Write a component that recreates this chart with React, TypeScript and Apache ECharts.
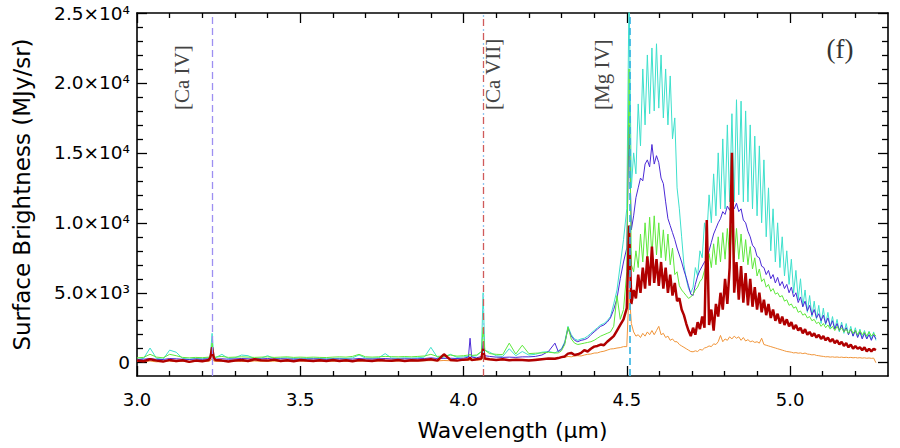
import React, { useEffect, useRef } from "react";
import * as echarts from "echarts";

// Wavelength grid (μm)
const wavelengthsA = [
  3.0, 3.02, 3.04, 3.06, 3.08, 3.1, 3.12, 3.14, 3.16, 3.18,
  3.2, 3.22, 3.225, 3.23, 3.235, 3.24, 3.26, 3.28, 3.3, 3.32,
  3.34, 3.36, 3.38, 3.4, 3.42, 3.44, 3.46, 3.48, 3.5, 3.52,
  3.54, 3.56, 3.58, 3.6, 3.62, 3.64, 3.66, 3.68, 3.7, 3.72,
  3.74, 3.76, 3.78, 3.8, 3.82, 3.84, 3.86, 3.88, 3.9, 3.92,
  3.94, 3.96, 3.98, 4.0, 4.015, 4.02, 4.025, 4.04, 4.055, 4.06,
  4.065, 4.08, 4.1, 4.12, 4.14, 4.16, 4.18, 4.2, 4.22, 4.24,
  4.26, 4.28,
];
const wavelengthsB = [
  4.29, 4.3, 4.31, 4.32, 4.33, 4.34, 4.35, 4.36, 4.37, 4.38,
  4.39, 4.4, 4.41, 4.42, 4.43, 4.44, 4.45, 4.46, 4.47, 4.48, 4.49,
  4.5, 4.507, 4.514, 4.521, 4.528, 4.535, 4.542, 4.549, 4.556, 4.563,
  4.57, 4.577, 4.584, 4.591, 4.598, 4.605, 4.612, 4.619, 4.626, 4.633,
  4.64, 4.647, 4.654, 4.661, 4.668, 4.675, 4.682, 4.689, 4.696, 4.703,
  4.71, 4.717, 4.724, 4.731, 4.738, 4.745, 4.752, 4.759, 4.766, 4.773,
  4.78, 4.787, 4.794, 4.801, 4.808, 4.815, 4.822, 4.829, 4.836, 4.843,
  4.85, 4.857, 4.864, 4.871, 4.878, 4.885, 4.892, 4.899, 4.906, 4.913,
  4.92, 4.927, 4.934, 4.941, 4.948, 4.955, 4.962, 4.969, 4.976, 4.983,
  4.99, 4.997, 5.004, 5.011, 5.018, 5.025, 5.032, 5.039, 5.046, 5.053,
  5.06, 5.067, 5.074, 5.081, 5.088, 5.095, 5.102, 5.109, 5.116, 5.123,
  5.13, 5.137, 5.144, 5.151, 5.158, 5.165, 5.172, 5.179, 5.186, 5.193,
  5.2, 5.207, 5.214, 5.221, 5.228, 5.235, 5.242, 5.249, 5.256, 5.263,
];

// Surface brightness (MJy/sr)
const cyanA = [
  250, 300, 1050, 300, 250, 900, 750, 300, 250, 300,
  280, 350, 600, 2100, 500, 350, 600, 300, 350, 550,
  500, 300, 320, 500, 300, 320, 350, 300, 330, 300,
  320, 300, 280, 300, 320, 300, 350, 550, 330, 320,
  350, 650, 330, 320, 350, 330, 350, 400, 1100, 380,
  400, 600, 380, 420, 450, 500, 450, 500, 800, 5000,
  900, 750, 500, 450, 1000, 500, 800, 550, 600, 750,
  800, 700,
];
const cyanB = [
  850, 1000, 1500, 2600, 2000, 1700, 1600, 1700, 1750, 1900,
  2100, 2300, 2500, 2700, 2800, 3000, 3300, 4200, 5200, 7000, 8800,
  11000, 27000, 12500, 15000, 13500, 18500, 15500, 21000, 17000, 22000,
  17800, 22500, 18000, 22800, 18200, 22000, 17500, 21000, 17000, 20500,
  16000, 17500, 12500, 11000, 9000, 7000, 6000, 5300, 5000, 5400,
  6800, 6200, 8000, 7500, 10000, 9000, 12000, 10000, 13500, 10500,
  15000, 11000, 16000, 11000, 17000, 11500, 17800, 11500, 18800, 12000,
  18700, 11500, 18000, 11500, 17000, 11000, 16200, 10500, 15500, 10000,
  14500, 9000, 12500, 8000, 11000, 7200, 10000, 6800, 9000, 6200,
  8000, 5600, 7400, 5000, 6600, 4500, 6000, 4000, 5200, 3600,
  4800, 3300, 4400, 3100, 4100, 2800, 3900, 2700, 3600, 2500,
  3300, 2400, 3100, 2200, 2900, 2100, 2800, 2000, 2600, 1900,
  2500, 1850, 2400, 1800, 2300, 1700, 2250, 1650, 2200, 1600,
];

const violetA = [
  220, 250, 300, 240, 230, 300, 280, 250, 230, 260,
  240, 280, 350, 900, 300, 260, 280, 250, 270, 300,
  280, 260, 270, 300, 260, 280, 270, 250, 260, 250,
  270, 260, 240, 260, 270, 250, 260, 300, 270, 260,
  280, 300, 270, 260, 280, 270, 280, 300, 350, 300,
  310, 320, 300, 320, 400, 1750, 400, 350, 450, 1500,
  500, 450, 400, 380, 400, 380, 420, 420, 450, 550,
  800, 1400,
];
const violetB = [
  800, 950, 1400, 2450, 1900, 1600, 1500, 1600, 1650, 1750,
  2000, 2200, 2400, 2600, 2700, 2900, 3200, 3800, 4600, 6000, 7200,
  8200, 17000, 9500, 10500, 11800, 12500, 13200, 13000, 14200, 14500,
  14000, 15600, 14200, 14800, 14300, 13200, 12800, 11500, 10300, 9800,
  9300, 8800, 8200, 7700, 7200, 6600, 6100, 5500, 4900, 4800,
  5600, 6200, 6600, 6900, 7200, 7400, 8000, 8600, 9200, 9600,
  10000, 10300, 10800, 10600, 11200, 10900, 11500, 11000, 11400, 10800,
  11000, 10200, 10000, 9400, 9000, 8400, 8200, 7600, 7500, 6900,
  6800, 6300, 6600, 6000, 6300, 5700, 6100, 5500, 5800, 5300,
  5600, 5000, 5400, 4700, 5000, 4300, 4700, 4000, 4400, 3700,
  4100, 3400, 3800, 3200, 3500, 3000, 3400, 2800, 3200, 2600,
  3000, 2400, 2800, 2300, 2700, 2200, 2500, 2000, 2400, 1900,
  2300, 1800, 2200, 1700, 2100, 1700, 2000, 1600, 2000, 1700,
];

const greenA = [
  350, 380, 600, 400, 350, 600, 500, 380, 350, 380,
  360, 400, 500, 1400, 450, 400, 450, 380, 400, 420,
  400, 380, 400, 420, 380, 400, 420, 380, 400, 380,
  400, 380, 370, 400, 420, 400, 450, 600, 420, 400,
  420, 450, 430, 420, 440, 420, 450, 480, 600, 450,
  480, 550, 470, 500, 550, 600, 520, 550, 800, 2500,
  900, 650, 600, 580, 1400, 620, 1250, 650, 680, 700,
  750, 700,
];
const greenB = [
  700, 850, 1300, 2550, 1700, 1400, 1300, 1350, 1400, 1450,
  1500, 1600, 1750, 1900, 2000, 2100, 2200, 2600, 4800, 3100, 3800,
  6500, 21000, 7000, 6500, 8000, 6800, 9200, 7200, 10000, 7500,
  10400, 7600, 10500, 7700, 10000, 7500, 9500, 7300, 9200, 7000,
  8200, 6300, 6500, 5500, 5200, 5000, 4800, 4600, 4700, 4900,
  5200, 5400, 5800, 6000, 6600, 7000, 7800, 6800, 8500, 7000,
  9000, 7200, 9300, 7400, 9600, 7500, 9800, 7500, 9600, 7400,
  9200, 7200, 8800, 7000, 8300, 6700, 7500, 6200, 6700, 5800,
  6000, 5400, 5600, 5100, 5300, 4900, 5000, 4700, 4800, 4400,
  4500, 4100, 4200, 3900, 4000, 3600, 3700, 3400, 3500, 3200,
  3300, 3000, 3100, 2800, 2900, 2600, 2800, 2500, 2700, 2400,
  2600, 2300, 2600, 2300, 2500, 2200, 2400, 2100, 2400, 2100,
  2300, 2000, 2300, 2000, 2200, 1900, 2200, 1900, 2100, 1900,
];

const redA = [
  150, 100, 250, 150, 80, 200, 120, 180, 60, 150,
  100, 200, 400, 1100, 350, 200, 150, 80, 160, 200,
  120, 250, 180, 150, 220, 120, 180, 100, 200, 150,
  120, 180, 130, 200, 120, 170, 100, 200, 150, 120,
  200, 160, 140, 200, 120, 180, 150, 200, 250, 150,
  600, 200, 150, 220, 250, 350, 200, 250, 300, 1000,
  300, 250, 200, 250, 180, 220, 200, 150, 200, 250,
  300, 280,
];
const redB = [
  330, 400, 450, 650, 700, 550, 600, 700, 900, 800,
  1000, 1150, 1200, 1300, 1250, 1500, 1700, 1900, 2300, 2700, 3100,
  3900, 9800, 4200, 5200, 4600, 6300, 5000, 6800, 5300, 7600,
  5500, 8300, 5700, 7400, 5500, 7200, 5300, 6800, 5000, 6300,
  4800, 5700, 4400, 4600, 3800, 3400, 2800, 2300, 1900, 2500,
  2000, 2900, 2400, 3300, 2500, 10200, 2700, 3800, 2300, 4200,
  3300, 5000, 3800, 6000, 4200, 6800, 15000, 5000, 7200, 4500,
  6900, 4300, 6400, 4100, 6000, 4000, 5400, 3800, 5000, 3600,
  4500, 3400, 4200, 3200, 3800, 3000, 3500, 2800, 3300, 2700,
  3100, 2600, 2900, 2400, 2700, 2300, 2500, 2100, 2400, 2000,
  2200, 1900, 2100, 1800, 2000, 1700, 1900, 1600, 1800, 1500,
  1700, 1400, 1600, 1300, 1500, 1200, 1400, 1100, 1300, 1000,
  1200, 1000, 1100, 900, 1100, 800, 1000, 800, 1000, 900,
];

const orangeA = [
  100, 80, 120, 60, 90, 110, 70, 100, 50, 90,
  80, 100, 150, 300, 120, 90, 100, 70, 110, 90,
  80, 120, 100, 90, 110, 80, 100, 90, 120, 100,
  80, 110, 90, 100, 120, 90, 110, 100, 120, 90,
  110, 130, 100, 120, 110, 130, 120, 140, 150, 130,
  160, 140, 150, 170, 160, 200, 170, 180, 200, 500,
  220, 200, 210, 190, 220, 200, 230, 210, 250, 270,
  300, 320,
];
const orangeB = [
  350, 400, 380, 450, 420, 480, 500, 480, 550, 600,
  620, 690, 700, 780, 820, 900, 980, 1000, 1050, 1080, 1150,
  1150, 5200, 2800, 2200, 1900, 2000, 1800, 2100, 1900, 2200,
  2000, 2300, 2000, 2300, 2600, 2000, 2100, 1800, 1900, 1600,
  1700, 1500, 1500, 1300, 1200, 1100, 1000, 900, 800, 780,
  850, 800, 950, 900, 1050, 1100, 1200, 1150, 1350, 1300,
  1500, 1950, 1500, 1700, 1600, 1850, 1700, 1900, 1750, 1850,
  1600, 1800, 1550, 1650, 1500, 1550, 1450, 1500, 1400, 1750,
  1300, 1250, 1200, 1150, 1100, 1050, 1000, 950, 900, 850,
  800, 780, 750, 700, 720, 680, 700, 650, 690, 620,
  600, 560, 580, 520, 500, 470, 450, 420, 430, 400,
  420, 390, 410, 380, 400, 370, 390, 360, 380, 350,
  370, 340, 360, 330, 350, 320, 340, 310, 330, 0,
];

// Axis ticks and labels
const xMajor = [3.0, 3.5, 4.0, 4.5, 5.0];
const xMinor = [3.1, 3.2, 3.3, 3.4, 3.6, 3.7, 3.8, 3.9, 4.1, 4.2, 4.3, 4.4, 4.6, 4.7, 4.8, 4.9, 5.1, 5.2];
const yMajor = [0, 5000, 10000, 15000, 20000, 25000];
const yMinor = [1000, 2000, 3000, 4000, 6000, 7000, 8000, 9000, 11000, 12000, 13000, 14000, 16000, 17000, 18000, 19000, 21000, 22000, 23000, 24000];
const yTickLabels = ["0", "5.0×10³", "1.0×10⁴", "1.5×10⁴", "2.0×10⁴", "2.5×10⁴"];

// Emission line markers
const lineNames = ["[Ca IV]", "[Ca VII]", "[Mg IV]"];
const lineWavelengths = [3.229, 4.059, 4.508];

const X_MIN = 3.0;
const X_MAX = 5.3;
const Y_MIN = -950;
const Y_MAX = 25000;
const SANS = "DejaVu Sans";
const SERIF = "Liberation Serif";

export default function App() {
  const ref = useRef<HTMLDivElement>(null);

  useEffect(() => {
    if (!ref.current) return;
    const chart = echarts.init(ref.current, null, { renderer: "svg" });
    const wl = wavelengthsA.concat(wavelengthsB);
    const pair = (vals: number[]) => wl.map((x, i) => [x, vals[i]]);

    const xAx = (position: string, ticks: number[], len: number, labels: boolean, line: boolean, extra: any = {}) => ({
      type: "value",
      position,
      min: X_MIN,
      max: X_MAX,
      axisLine: { show: line, onZero: false, lineStyle: { color: "#000", width: 1.6 } },
      axisTick: { show: true, inside: true, length: len, customValues: ticks, lineStyle: { color: "#000", width: 1.3 } },
      axisLabel: labels
        ? { show: true, customValues: ticks, formatter: (v: number) => v.toFixed(1), margin: 14, fontSize: 18, fontFamily: SANS, color: "#000" }
        : { show: false },
      splitLine: { show: false },
      ...extra,
    });
    const yAx = (position: string, ticks: number[], len: number, labels: boolean, line: boolean, extra: any = {}) => ({
      type: "value",
      position,
      min: Y_MIN,
      max: Y_MAX,
      axisLine: { show: line, onZero: false, lineStyle: { color: "#000", width: 1.6 } },
      axisTick: { show: true, inside: true, length: len, customValues: ticks, lineStyle: { color: "#000", width: 1.3 } },
      axisLabel: labels
        ? {
            show: true,
            customValues: ticks,
            formatter: (v: number) => yTickLabels[yMajor.indexOf(Math.round(v))] ?? "",
            margin: 7,
            fontSize: 18.5,
            fontFamily: SANS,
            color: "#000",
          }
        : { show: false },
      splitLine: { show: false },
      ...extra,
    });

    const mkSeries = (name: string, vals: number[], color: string, width: number, extra: any = {}) => ({
      name,
      type: "line",
      data: pair(vals),
      showSymbol: false,
      symbol: "none",
      clip: true,
      lineStyle: { color, width },
      emphasis: { disabled: true },
      silent: true,
      ...extra,
    });

    const markData = [
      { xAxis: lineWavelengths[0], lineStyle: { color: "#9d8ff2", type: [7, 4], width: 1.3 } },
      { xAxis: lineWavelengths[1], lineStyle: { color: "#cf5a5a", type: [7, 7], width: 1.3 } },
      { xAxis: lineWavelengths[1], lineStyle: { color: "#8fc6f0", type: [2, 12], dashOffset: -9, width: 1.3 } },
      { xAxis: lineWavelengths[2], lineStyle: { color: "#2fb2e2", type: [7, 4], width: 1.6 } },
    ];

    const labelX = [181.7, 493, 601.7];

    chart.setOption({
      animation: false,
      backgroundColor: "#fff",
      grid: { left: 137, right: 12, top: 13, bottom: 72, containLabel: false },
      xAxis: [
        xAx("bottom", xMajor, 10, true, true, {
          name: "Wavelength (μm)",
          nameLocation: "middle",
          nameGap: 43,
          nameTextStyle: { fontSize: 22, fontFamily: SANS, color: "#000" },
        }),
        xAx("bottom", xMinor, 5, false, false),
        xAx("top", xMajor, 10, false, true),
        xAx("top", xMinor, 5, false, false),
      ],
      yAxis: [
        yAx("left", yMajor, 10, true, true, {
          name: "Surface Brightness (MJy/sr)",
          nameLocation: "middle",
          nameGap: 104,
          nameTextStyle: { fontSize: 23, fontFamily: SANS, color: "#000" },
        }),
        yAx("left", yMinor, 6, false, false),
        yAx("right", yMajor, 10, false, true),
        yAx("right", yMinor, 6, false, false),
      ],
      series: [
        mkSeries("orange", orangeA.concat(orangeB), "#f0953a", 1),
        mkSeries("cyan", cyanA.concat(cyanB), "#3ee0cc", 1),
        mkSeries("violet", violetA.concat(violetB), "#4b2ad6", 1),
        mkSeries("green", greenA.concat(greenB), "#5ee83c", 1),
        mkSeries("red", redA.concat(redB), "#b00000", 2.5, {
          markLine: {
            silent: true,
            symbol: ["none", "none"],
            label: { show: false },
            emphasis: { disabled: true },
            data: markData,
          },
        }),
      ],
      graphic: [
        {
          type: "text",
          x: 840,
          y: 49,
          silent: true,
          style: { text: "(f)", fontSize: 27, fontFamily: SERIF, fill: "#333", align: "center", verticalAlign: "middle" },
        },
        ...lineNames.map((t, i) => ({
          type: "text",
          x: labelX[i],
          y: 110,
          rotation: Math.PI / 2,
          silent: true,
          style: { text: t, fontSize: 21, fontFamily: SERIF, fill: "#444", align: "left", verticalAlign: "middle" },
        })),
      ],
    });

    return () => chart.dispose();
  }, []);

  return <div ref={ref} style={{ position: "absolute", left: 0, top: 0, width: 900, height: 448 }} />;
}
